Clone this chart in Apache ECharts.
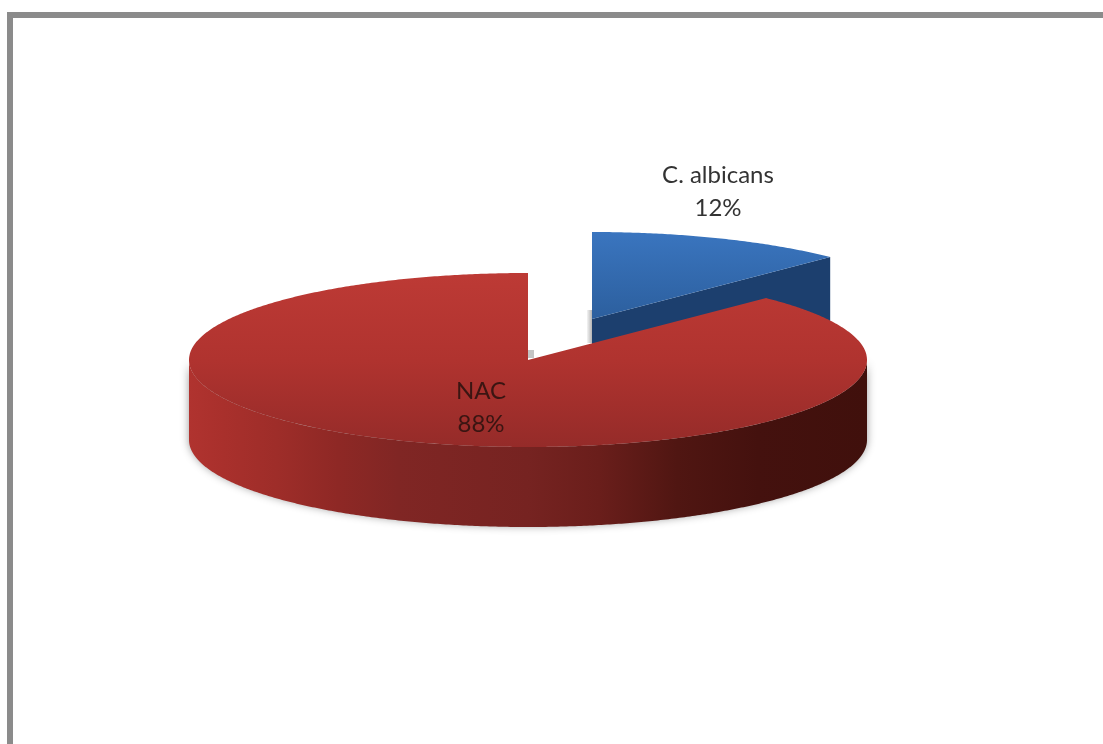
<!DOCTYPE html>
<html>
<head>
<meta charset="utf-8">
<style>html,body{margin:0;padding:0;background:#fff}#c{width:1103px;height:744px}</style>
<script src="https://cdn.jsdelivr.net/npm/echarts@6/dist/echarts.min.js"></script>
</head>
<body>
<div id="c"></div>
<script>
var categories = ['C. albicans', 'NAC'];
var seriesValues = [12.4, 87.6];

var total = seriesValues.reduce(function (a, b) { return a + b; }, 0);
var RX = 339, RY = 87, DEPTH = 80;
var pieCenter = [528, 360];
var explode = [[64, -41], [0, 0]];
var labelPos = [[718, 159], [481, 375]];
var LG = echarts.graphic.LinearGradient;

function pt(c, deg, dy) {
  var t = deg * Math.PI / 180;
  return [c[0] + RX * Math.sin(t), c[1] - RY * Math.cos(t) + (dy || 0)];
}
function arc(c, a, b, dy) {
  var out = [], n = Math.max(2, Math.ceil(Math.abs(b - a) * 2));
  for (var i = 0; i <= n; i++) out.push(pt(c, a + (b - a) * i / n, dy));
  return out;
}
function poly(points, fill, extra) {
  var style = { fill: fill };
  for (var k in (extra || {})) style[k] = extra[k];
  return { type: 'polygon', shape: { points: points }, style: style, silent: true };
}

function renderItem(params, api) {
  var i = params.dataIndex;
  var before = 0;
  for (var j = 0; j < i; j++) before += seriesValues[j];
  var a0 = before / total * 360, a1 = (before + api.value(0)) / total * 360;
  var c = [pieCenter[0] + explode[i][0], pieCenter[1] + explode[i][1]];
  var kids = [];

  if (i === 0) {
    kids.push({ type: 'rect', shape: { x: c[0] - 5, y: c[1] - 9, width: 5, height: 33 },
      style: { fill: new LG(0, 0, 1, 0, [{ offset: 0, color: '#f4f4f4' }, { offset: 1, color: '#b4b4b4' }]) }, silent: true });
    var end = pt(c, a1);
    kids.push(poly([c, end, [end[0], end[1] + DEPTH], [c[0], c[1] + DEPTH]], '#1c3f6e'));
    kids.push(poly([c].concat(arc(c, a0, a1)),
      new LG(0, 0, 0, 1, [{ offset: 0, color: '#3a75bf' }, { offset: 1, color: '#2c5f9e' }])));
  } else {
    kids.push({ type: 'rect', shape: { x: c[0], y: c[1] - 10, width: 6, height: 8 },
      style: { fill: '#c4c4c4' }, silent: true });
    var wall = arc(c, 90, 270, 0).concat(arc(c, 270, 90, DEPTH));
    kids.push(poly(wall,
      new LG(0, 0, 1, 0, [
        { offset: 0, color: '#b0332f' },
        { offset: 0.05, color: '#a9302c' },
        { offset: 0.13, color: '#9e2d29' },
        { offset: 0.22, color: '#8e2825' },
        { offset: 0.31, color: '#802624' },
        { offset: 0.5, color: '#762321' },
        { offset: 0.605, color: '#6a1e1b' },
        { offset: 0.72, color: '#501612' },
        { offset: 0.84, color: '#44110e' },
        { offset: 1, color: '#40100c' }
      ]),
      { shadowBlur: 8, shadowColor: 'rgba(0,0,0,0.4)', shadowOffsetY: -1 }));
    kids.push(poly([c].concat(arc(c, a0, a1)),
      new LG(0, 0, 0, 1, [{ offset: 0, color: '#bd3a35' }, { offset: 0.5, color: '#b0332f' }, { offset: 1, color: '#952b29' }])));
  }
  var pct = Math.round(api.value(0) / total * 100) + '%';
  kids.push({
    type: 'text', silent: true, z2: 10,
    style: {
      x: labelPos[i][0], y: labelPos[i][1],
      text: categories[i] + '\n' + pct,
      font: '24px Lato, "Open Sans", sans-serif',
      lineHeight: 33, align: 'center', verticalAlign: 'top',
      fill: i === 0 ? '#333333' : '#3a1512'
    }
  });
  return { type: 'group', children: kids };
}

var chart = echarts.init(document.getElementById('c'), null, { renderer: 'canvas' });
chart.setOption({
  backgroundColor: '#ffffff',
  animation: false,
  graphic: [
    { type: 'rect', shape: { x: 7, y: 12, width: 1096, height: 6 }, style: { fill: '#8b8b8b' }, silent: true },
    { type: 'rect', shape: { x: 7, y: 12, width: 6, height: 732 }, style: { fill: '#8b8b8b' }, silent: true }
  ],
  series: [{
    type: 'custom',
    coordinateSystem: 'none',
    renderItem: renderItem,
    clip: false,
    data: seriesValues.map(function (v, i) { return { name: categories[i], value: [v] }; })
  }]
});
</script>
</body>
</html>
